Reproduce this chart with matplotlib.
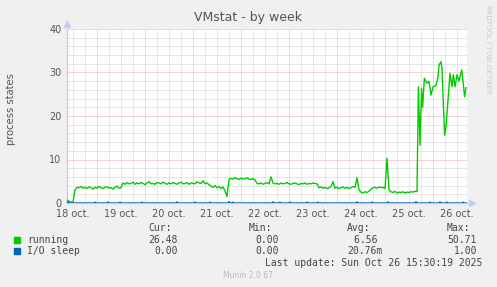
import matplotlib
matplotlib.use('Agg')
import matplotlib.pyplot as plt
import numpy as np

# hours since 18 oct 00:00, one sample per hour for most of the week
run_hours_flat = np.arange(9, 184)
run_vals_flat = [
    0.7, 0.4, 0.2, 0.2,
    3.0, 3.6, 3.5, 3.8, 3.4, 3.6, 3.3, 3.7, 3.5, 3.2, 3.6, 3.4, 3.8, 3.5, 3.3, 3.6,
    3.7, 3.4, 3.5, 3.2, 3.6, 3.9, 3.4, 3.5,
    4.6, 4.3, 4.7, 4.4, 4.5, 4.8, 4.3, 4.6, 4.4, 4.7, 4.5, 4.2, 4.6, 4.9, 4.4, 4.5,
    4.3, 4.7, 4.6, 4.4, 4.8, 4.5, 4.3, 4.6, 4.4, 4.7, 4.5, 4.3, 4.6, 4.8, 4.4, 4.5,
    4.7, 4.3, 4.6, 4.5, 4.4, 4.9, 4.6, 4.5, 5.1, 4.4, 4.6,
    4.2, 3.9, 3.6, 4.0, 3.5, 3.8, 3.3, 3.7, 2.8, 1.5,
    5.4, 5.7, 5.5, 5.8, 5.6, 5.4, 5.7, 5.5, 5.6, 5.8, 5.5,
    5.4, 5.6, 5.3,
    4.5, 4.4, 4.6, 4.3, 4.5, 4.7, 4.4, 6.0, 4.6, 4.4, 4.5, 4.3, 4.6, 4.4, 4.5, 4.7,
    4.4, 4.3, 4.5, 4.6, 4.4, 4.2, 4.5, 4.4, 4.6, 4.3, 4.5, 4.4, 4.6, 4.5, 4.4,
    3.5, 3.7, 3.4, 3.6, 3.3, 3.5, 3.8, 4.9, 3.4, 3.6, 3.3, 3.5, 3.7, 3.4, 3.6, 3.3,
    3.5, 3.8, 3.6,
    5.8,
    3.0, 2.5, 2.3, 2.6, 2.4, 2.7, 3.2,
    3.5, 3.6, 3.4, 3.7, 3.5, 3.6, 3.3,
    10.3,
    3.0, 2.6, 2.4, 2.7, 2.3, 2.5, 2.4, 2.6, 2.3, 2.5, 2.4, 2.6, 2.5, 2.7,
]
# last day, read point by point
run_hours_tail = [184, 184.7, 185.5, 186.3, 186.8, 187.7, 189, 190, 191, 192, 193.5,
                  194.5, 195, 196, 196.5, 197.8, 198.5, 199.5, 200.5, 201.5, 202.2,
                  203, 204, 205, 206.3, 207, 207.8, 208.5]
run_vals_tail = [2.6, 26.7, 13.3, 26.4, 22.0, 28.7, 27.5, 28.0, 24.8, 26.7, 27.0,
                 29.0, 31.7, 32.5, 30.8, 15.6, 17.5, 23.7, 29.8, 26.7, 29.5,
                 26.7, 29.5, 28.0, 30.6, 28.0, 24.4, 26.5]

# I/O sleep: zero with small blips
io_blip_hours = [9.5, 23, 29.5, 35.5, 46.5, 64, 73, 80.5, 90, 92, 112, 115.5, 120.5,
                 129, 134.5, 154, 161.5, 169.5, 183.5, 190.5, 195.5, 199, 207]
io_blip_vals = [0.3, 0.2, 0.25, 0.2, 0.2, 0.25, 0.2, 0.2, 0.3, 0.2, 0.25, 0.2, 0.2,
                0.2, 0.2, 0.25, 0.2, 0.25, 0.3, 0.2, 0.25, 0.2, 0.2]

day_labels = ['18 oct.', '19 oct.', '20 oct.', '21 oct.', '22 oct.', '23 oct.',
              '24 oct.', '25 oct.', '26 oct.']

legend_names = ['running', 'I/O sleep']
legend_colors = ['#00CC00', '#0066B3']
cur_vals = ['26.48', '0.00']
min_vals = ['0.00', '0.00']
avg_vals = ['6.56 ', '20.76m']
max_vals = ['50.71', '1.00']

W, H = 497, 287
fig = plt.figure(figsize=(W / 100, H / 100), dpi=100, facecolor='#F0F0F0')


def fx(x):
    return x / W


def fy(y):
    return 1 - y / H


ax = fig.add_axes([fx(67), fy(203), fx(400), 174 / H])
ax.set_facecolor('white')
ax.set_xlim(9, 209)
ax.set_ylim(0, 40)

# grid: 1px dots, 1px gaps
dots = (0, (1, 1))
for h in range(12, 209, 6):
    if h % 24:
        ax.axvline(h, color='#D0D0D0', lw=0.72, ls=dots, zorder=0)
for v in range(2, 40, 2):
    if v % 10:
        ax.axhline(v, color='#D0D0D0', lw=0.72, ls=dots, zorder=0)
for h in range(24, 209, 24):
    ax.axvline(h, color='#F0A8A8', lw=0.72, ls=dots, zorder=1)
for v in range(10, 41, 10):
    ax.axhline(v, color='#F0A8A8', lw=0.72, ls=dots, zorder=1)

run_h = np.concatenate([run_hours_flat, run_hours_tail])
run_v = np.concatenate([run_vals_flat, run_vals_tail])
ax.plot(run_h, run_v, color='#00CC00', lw=1.0, zorder=3)

io_h = [9]
io_v = [0]
for h, v in zip(io_blip_hours, io_blip_vals):
    io_h += [h - 0.5, h, h + 0.5]
    io_v += [0, v, 0]
io_h.append(209)
io_v.append(0)
ax.plot(io_h, io_v, color='#0066B3', lw=1.0, zorder=4)

for s in ['top', 'right']:
    ax.spines[s].set_visible(False)
for s in ['left', 'bottom']:
    ax.spines[s].set_color('#C8C8F0')
    ax.spines[s].set_linewidth(1.0)
ax.plot([0], [1.03], marker='^', color='#C8C8F0', ms=5, transform=ax.transAxes,
        clip_on=False)
ax.plot([1.012], [0], marker='>', color='#C8C8F0', ms=5, transform=ax.transAxes,
        clip_on=False)

ax.set_xticks(range(12, 209, 24))
ax.set_xticklabels(day_labels)
ax.set_yticks([0, 10, 20, 30, 40])
ax.tick_params(length=0, labelsize=7, colors='#555555', pad=4)
ax.set_ylabel('process states', fontsize=7.2, color='#555555')
ax.yaxis.set_label_coords((16 - 67) / 400, 0.54)

fig.text(fx(248), fy(18), 'VMstat - by week', ha='center', va='center',
         fontsize=9, color='#555555')
fig.text(fx(488), fy(5), 'RRDTOOL / TOBI OETIKER', rotation=270, ha='center',
         va='top', fontsize=5, color='#C8C8C8')

mono = 'DejaVu Sans Mono'
tc = '#444444'
fs = 7
y_head, y_rows = 228, [240, 251]
fig.text(fx(172), fy(y_head), 'Cur:', ha='right', va='center', family=mono, fontsize=fs, color=tc)
fig.text(fx(272), fy(y_head), 'Min:', ha='right', va='center', family=mono, fontsize=fs, color=tc)
fig.text(fx(370), fy(y_head), 'Avg:', ha='right', va='center', family=mono, fontsize=fs, color=tc)
fig.text(fx(470), fy(y_head), 'Max:', ha='right', va='center', family=mono, fontsize=fs, color=tc)
for i, name in enumerate(legend_names):
    y = y_rows[i]
    fig.patches.append(plt.Rectangle((fx(14), fy(y + 3)), fx(6), 6 / H,
                                     transform=fig.transFigure, color=legend_colors[i]))
    fig.text(fx(27), fy(y), name, ha='left', va='center', family=mono, fontsize=fs, color=tc)
    fig.text(fx(178), fy(y), cur_vals[i], ha='right', va='center', family=mono, fontsize=fs, color=tc)
    fig.text(fx(279), fy(y), min_vals[i], ha='right', va='center', family=mono, fontsize=fs, color=tc)
    fig.text(fx(383), fy(y), avg_vals[i], ha='right', va='center', family=mono, fontsize=fs, color=tc)
    fig.text(fx(477), fy(y), max_vals[i], ha='right', va='center', family=mono, fontsize=fs, color=tc)

fig.text(fx(482), fy(263), 'Last update: Sun Oct 26 15:30:19 2025', ha='right', va='center',
         family=mono, fontsize=fs, color=tc)
fig.text(fx(248), fy(276), 'Munin 2.0.67', ha='center', va='center', fontsize=5.5,
         color='#BBBBBB')

fig.savefig('out.png', dpi=100, facecolor=fig.get_facecolor())
